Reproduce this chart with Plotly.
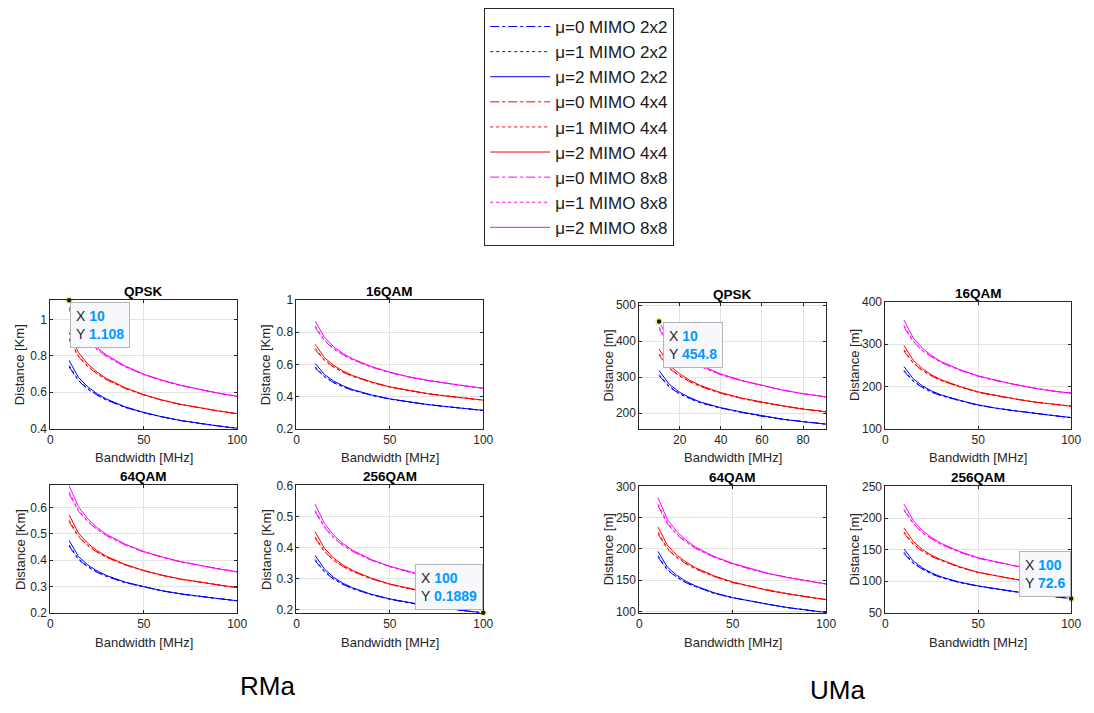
import plotly.graph_objects as go

W, H = 1094, 713

# ---------------- data ----------------
BW = [10, 15, 20, 25, 30, 40, 50, 60, 70, 80, 90, 100]
BW_LABEL_TICKS = [0, 50, 100]
BW_LABEL_TICKS_UMA_QPSK = [20, 40, 60, 80]

LEGEND_NAMES = ["μ=0 MIMO 2x2", "μ=1 MIMO 2x2", "μ=2 MIMO 2x2",
                "μ=0 MIMO 4x4", "μ=1 MIMO 4x4", "μ=2 MIMO 4x4",
                "μ=0 MIMO 8x8", "μ=1 MIMO 8x8", "μ=2 MIMO 8x8"]
PANEL_TITLES = ["QPSK", "16QAM", "64QAM", "256QAM"]

# RMa QPSK [Km]
RMA_QPSK_2X2_MU0 = [0.740, 0.663, 0.617, 0.584, 0.557, 0.517, 0.487, 0.463, 0.443, 0.428, 0.414, 0.401]
RMA_QPSK_2X2_MU1 = [0.748, 0.667, 0.620, 0.585, 0.558, 0.517, 0.488, 0.463, 0.444, 0.428, 0.414, 0.401]
RMA_QPSK_2X2_MU2 = [0.775, 0.682, 0.630, 0.592, 0.563, 0.520, 0.489, 0.464, 0.444, 0.428, 0.414, 0.401]
RMA_QPSK_4X4_MU0 = [0.888, 0.796, 0.741, 0.701, 0.669, 0.621, 0.585, 0.555, 0.532, 0.513, 0.496, 0.482]
RMA_QPSK_4X4_MU1 = [0.897, 0.801, 0.744, 0.703, 0.671, 0.622, 0.585, 0.556, 0.532, 0.513, 0.497, 0.482]
RMA_QPSK_4X4_MU2 = [0.930, 0.819, 0.756, 0.711, 0.676, 0.625, 0.587, 0.557, 0.533, 0.514, 0.497, 0.482]
RMA_QPSK_8X8_MU0 = [1.058, 0.948, 0.882, 0.834, 0.798, 0.741, 0.697, 0.664, 0.637, 0.614, 0.594, 0.578]
RMA_QPSK_8X8_MU1 = [1.069, 0.954, 0.886, 0.837, 0.800, 0.741, 0.698, 0.665, 0.637, 0.614, 0.595, 0.578]
RMA_QPSK_8X8_MU2 = [1.108, 0.975, 0.900, 0.846, 0.806, 0.745, 0.700, 0.666, 0.638, 0.615, 0.595, 0.578]

# RMa 16QAM [Km]
RMA_16QAM_2X2_MU0 = [0.578, 0.522, 0.485, 0.459, 0.439, 0.408, 0.383, 0.365, 0.349, 0.337, 0.325, 0.313]
RMA_16QAM_2X2_MU1 = [0.584, 0.525, 0.487, 0.461, 0.439, 0.408, 0.384, 0.365, 0.350, 0.337, 0.325, 0.313]
RMA_16QAM_2X2_MU2 = [0.605, 0.537, 0.495, 0.466, 0.443, 0.410, 0.385, 0.366, 0.350, 0.337, 0.325, 0.313]
RMA_16QAM_4X4_MU0 = [0.692, 0.624, 0.581, 0.550, 0.526, 0.488, 0.458, 0.436, 0.417, 0.403, 0.389, 0.377]
RMA_16QAM_4X4_MU1 = [0.700, 0.628, 0.584, 0.552, 0.527, 0.489, 0.459, 0.436, 0.418, 0.403, 0.389, 0.377]
RMA_16QAM_4X4_MU2 = [0.725, 0.642, 0.593, 0.558, 0.531, 0.491, 0.460, 0.437, 0.418, 0.403, 0.389, 0.377]
RMA_16QAM_8X8_MU0 = [0.830, 0.746, 0.695, 0.658, 0.629, 0.583, 0.549, 0.521, 0.500, 0.482, 0.466, 0.451]
RMA_16QAM_8X8_MU1 = [0.839, 0.751, 0.698, 0.660, 0.630, 0.584, 0.549, 0.522, 0.500, 0.482, 0.466, 0.451]
RMA_16QAM_8X8_MU2 = [0.869, 0.768, 0.709, 0.667, 0.635, 0.587, 0.551, 0.523, 0.501, 0.482, 0.466, 0.451]

# RMa 64QAM [Km]
RMA_64QAM_2X2_MU0 = [0.454, 0.402, 0.374, 0.354, 0.339, 0.315, 0.299, 0.283, 0.271, 0.262, 0.254, 0.246]
RMA_64QAM_2X2_MU1 = [0.458, 0.405, 0.376, 0.355, 0.339, 0.315, 0.299, 0.283, 0.272, 0.262, 0.254, 0.246]
RMA_64QAM_2X2_MU2 = [0.475, 0.414, 0.382, 0.359, 0.342, 0.317, 0.300, 0.284, 0.272, 0.262, 0.254, 0.246]
RMA_64QAM_4X4_MU0 = [0.546, 0.489, 0.455, 0.430, 0.411, 0.382, 0.360, 0.342, 0.327, 0.316, 0.306, 0.296]
RMA_64QAM_4X4_MU1 = [0.552, 0.492, 0.457, 0.431, 0.412, 0.382, 0.360, 0.342, 0.328, 0.316, 0.306, 0.296]
RMA_64QAM_4X4_MU2 = [0.572, 0.503, 0.464, 0.436, 0.415, 0.384, 0.361, 0.343, 0.328, 0.316, 0.306, 0.296]
RMA_64QAM_8X8_MU0 = [0.652, 0.586, 0.546, 0.517, 0.493, 0.458, 0.431, 0.411, 0.393, 0.380, 0.367, 0.356]
RMA_64QAM_8X8_MU1 = [0.659, 0.590, 0.548, 0.518, 0.494, 0.459, 0.432, 0.411, 0.394, 0.380, 0.367, 0.356]
RMA_64QAM_8X8_MU2 = [0.683, 0.603, 0.557, 0.524, 0.498, 0.461, 0.433, 0.412, 0.394, 0.380, 0.367, 0.356]

# RMa 256QAM [Km]
RMA_256QAM_2X2_MU0 = [0.357, 0.321, 0.297, 0.280, 0.267, 0.248, 0.233, 0.221, 0.212, 0.203, 0.196, 0.1889]
RMA_256QAM_2X2_MU1 = [0.361, 0.323, 0.298, 0.281, 0.268, 0.248, 0.233, 0.222, 0.212, 0.203, 0.196, 0.1889]
RMA_256QAM_2X2_MU2 = [0.374, 0.330, 0.303, 0.284, 0.270, 0.249, 0.234, 0.222, 0.212, 0.203, 0.196, 0.1889]
RMA_256QAM_4X4_MU0 = [0.430, 0.386, 0.358, 0.338, 0.323, 0.299, 0.281, 0.267, 0.255, 0.246, 0.237, 0.229]
RMA_256QAM_4X4_MU1 = [0.434, 0.388, 0.359, 0.339, 0.323, 0.299, 0.281, 0.267, 0.256, 0.246, 0.237, 0.229]
RMA_256QAM_4X4_MU2 = [0.450, 0.397, 0.365, 0.343, 0.326, 0.301, 0.282, 0.268, 0.256, 0.246, 0.237, 0.229]
RMA_256QAM_8X8_MU0 = [0.515, 0.464, 0.430, 0.406, 0.387, 0.359, 0.338, 0.321, 0.306, 0.295, 0.284, 0.275]
RMA_256QAM_8X8_MU1 = [0.520, 0.467, 0.432, 0.407, 0.388, 0.359, 0.338, 0.321, 0.307, 0.295, 0.284, 0.275]
RMA_256QAM_8X8_MU2 = [0.539, 0.477, 0.439, 0.412, 0.391, 0.361, 0.339, 0.322, 0.307, 0.295, 0.284, 0.275]

# UMa QPSK [m]
UMA_QPSK_2X2_MU0 = [304, 272, 253, 240, 229, 214, 202, 191, 183, 176, 169, 164]
UMA_QPSK_2X2_MU1 = [307, 274, 254, 240, 229, 214, 202, 192, 183, 176, 169, 164]
UMA_QPSK_2X2_MU2 = [318, 280, 258, 243, 231, 215, 203, 192, 183, 176, 169, 164]
UMA_QPSK_4X4_MU0 = [361, 324, 303, 287, 274, 255, 241, 229, 220, 211, 204, 198]
UMA_QPSK_4X4_MU1 = [365, 326, 304, 288, 275, 256, 241, 230, 220, 211, 204, 198]
UMA_QPSK_4X4_MU2 = [378, 333, 309, 291, 277, 257, 242, 230, 220, 211, 204, 198]
UMA_QPSK_8X8_MU0 = [434, 389, 363, 344, 330, 307, 290, 276, 264, 254, 245, 238]
UMA_QPSK_8X8_MU1 = [439, 391, 364, 345, 330, 307, 290, 276, 264, 254, 245, 238]
UMA_QPSK_8X8_MU2 = [454.8, 400, 370, 349, 333, 309, 291, 277, 264, 254, 245, 238]

# UMa 16QAM [m]
UMA_16QAM_2X2_MU0 = [236, 212, 197, 186, 178, 166, 155, 148, 142, 136, 131, 126]
UMA_16QAM_2X2_MU1 = [238, 213, 198, 187, 179, 166, 156, 148, 142, 136, 131, 126]
UMA_16QAM_2X2_MU2 = [247, 218, 201, 189, 180, 167, 156, 148, 142, 136, 131, 126]
UMA_16QAM_4X4_MU0 = [284, 255, 237, 224, 214, 199, 186, 177, 170, 163, 158, 153]
UMA_16QAM_4X4_MU1 = [287, 256, 238, 225, 214, 199, 186, 178, 170, 163, 158, 153]
UMA_16QAM_4X4_MU2 = [297, 262, 242, 227, 216, 200, 187, 178, 170, 163, 158, 153]
UMA_16QAM_8X8_MU0 = [341, 306, 284, 269, 256, 239, 224, 213, 204, 196, 189, 184]
UMA_16QAM_8X8_MU1 = [345, 308, 285, 270, 257, 239, 224, 214, 204, 196, 189, 184]
UMA_16QAM_8X8_MU2 = [357, 315, 290, 273, 259, 240, 225, 214, 204, 196, 189, 184]

# UMa 64QAM [m]
UMA_64QAM_2X2_MU0 = [187, 166, 155, 146, 140, 129, 122, 116, 111, 106, 102, 98.4]
UMA_64QAM_2X2_MU1 = [189, 167, 155, 146, 140, 129, 122, 116, 111, 106, 102, 98.4]
UMA_64QAM_2X2_MU2 = [196, 171, 158, 148, 141, 130, 122, 116, 111, 106, 102, 98.4]
UMA_64QAM_4X4_MU0 = [224, 200, 186, 176, 168, 156, 146, 140, 133, 128, 123, 119]
UMA_64QAM_4X4_MU1 = [227, 201, 187, 177, 169, 156, 147, 140, 133, 128, 123, 119]
UMA_64QAM_4X4_MU2 = [235, 206, 190, 179, 170, 157, 147, 140, 133, 128, 123, 119]
UMA_64QAM_8X8_MU0 = [269, 240, 223, 211, 201, 187, 176, 167, 160, 154, 149, 144]
UMA_64QAM_8X8_MU1 = [272, 242, 224, 212, 201, 187, 176, 168, 160, 154, 149, 144]
UMA_64QAM_8X8_MU2 = [282, 247, 228, 214, 203, 188, 177, 168, 160, 154, 149, 144]

# UMa 256QAM [m]
UMA_256QAM_2X2_MU0 = [144, 128, 119, 111, 106, 97.9, 92.1, 87.2, 83.3, 79.4, 75.9, 72.6]
UMA_256QAM_2X2_MU1 = [146, 129, 119, 112, 106, 98.0, 92.2, 87.3, 83.4, 79.4, 76.0, 72.6]
UMA_256QAM_2X2_MU2 = [151, 132, 121, 113, 107, 98.5, 92.5, 87.5, 83.5, 79.5, 76.0, 72.6]
UMA_256QAM_4X4_MU0 = [176, 158, 147, 139, 133, 122, 114, 108, 103, 98.4, 94.4, 91]
UMA_256QAM_4X4_MU1 = [178, 159, 148, 139, 133, 122, 114, 108, 103, 98.4, 94.5, 91]
UMA_256QAM_4X4_MU2 = [184, 163, 150, 141, 134, 123, 114, 108, 103, 98.5, 94.5, 91]
UMA_256QAM_8X8_MU0 = [212, 191, 176, 167, 158, 146, 136, 130, 124, 119, 115, 111]
UMA_256QAM_8X8_MU1 = [214, 192, 177, 167, 159, 146, 137, 130, 124, 119, 115, 111]
UMA_256QAM_8X8_MU2 = [222, 196, 180, 169, 160, 147, 137, 130, 124, 119, 115, 111]

# data tips (x, y)
TIP_X = [10, 100, 10, 100]
TIP_Y = [1.108, 0.1889, 454.8, 72.6]
TIP_TEXT_X = ["10", "100", "10", "100"]
TIP_TEXT_Y = ["1.108", "0.1889", "454.8", "72.6"]

# y tick labels
YT_RMA_QPSK = [0.4, 0.6, 0.8, 1]
YT_RMA_16QAM = [0.2, 0.4, 0.6, 0.8, 1]
YT_RMA_64QAM = [0.2, 0.3, 0.4, 0.5, 0.6]
YT_RMA_256QAM = [0.2, 0.3, 0.4, 0.5, 0.6]
YT_UMA_QPSK = [200, 300, 400, 500]
YT_UMA_16QAM = [100, 200, 300, 400]
YT_UMA_64QAM = [100, 150, 200, 250, 300]
YT_UMA_256QAM = [50, 100, 150, 200, 250]

# ---------------- styling / layout ----------------
COLORS = ["#0000ff", "#ff0000", "#ff00ff"]
DASHES = ["dashdot", "dot", "solid"]
FONT = "Liberation Sans, Arial, sans-serif"
AX_COLOR = "#262626"
GRID = "#e3e3e3"

panels = [
    dict(title=PANEL_TITLES[0], px=(48, 237), py=(299, 430), xr=[0, 100], xt=BW_LABEL_TICKS,
         yr=[0.4, 1.108], yt=YT_RMA_QPSK, ylab="Distance [Km]",
         s=[RMA_QPSK_2X2_MU0, RMA_QPSK_2X2_MU1, RMA_QPSK_2X2_MU2,
            RMA_QPSK_4X4_MU0, RMA_QPSK_4X4_MU1, RMA_QPSK_4X4_MU2,
            RMA_QPSK_8X8_MU0, RMA_QPSK_8X8_MU1, RMA_QPSK_8X8_MU2]),
    dict(title=PANEL_TITLES[1], px=(297, 486), py=(299, 430), xr=[0, 100], xt=BW_LABEL_TICKS,
         yr=[0.2, 1.0], yt=YT_RMA_16QAM, ylab="Distance [Km]",
         s=[RMA_16QAM_2X2_MU0, RMA_16QAM_2X2_MU1, RMA_16QAM_2X2_MU2,
            RMA_16QAM_4X4_MU0, RMA_16QAM_4X4_MU1, RMA_16QAM_4X4_MU2,
            RMA_16QAM_8X8_MU0, RMA_16QAM_8X8_MU1, RMA_16QAM_8X8_MU2]),
    dict(title=PANEL_TITLES[2], px=(48, 237), py=(488, 618), xr=[0, 100], xt=BW_LABEL_TICKS,
         yr=[0.2, 0.684], yt=YT_RMA_64QAM, ylab="Distance [Km]",
         s=[RMA_64QAM_2X2_MU0, RMA_64QAM_2X2_MU1, RMA_64QAM_2X2_MU2,
            RMA_64QAM_4X4_MU0, RMA_64QAM_4X4_MU1, RMA_64QAM_4X4_MU2,
            RMA_64QAM_8X8_MU0, RMA_64QAM_8X8_MU1, RMA_64QAM_8X8_MU2]),
    dict(title=PANEL_TITLES[3], px=(297, 486), py=(488, 618), xr=[0, 100], xt=BW_LABEL_TICKS,
         yr=[0.1889, 0.6], yt=YT_RMA_256QAM, ylab="Distance [Km]",
         s=[RMA_256QAM_2X2_MU0, RMA_256QAM_2X2_MU1, RMA_256QAM_2X2_MU2,
            RMA_256QAM_4X4_MU0, RMA_256QAM_4X4_MU1, RMA_256QAM_4X4_MU2,
            RMA_256QAM_8X8_MU0, RMA_256QAM_8X8_MU1, RMA_256QAM_8X8_MU2]),
    dict(title=PANEL_TITLES[0], px=(644, 833), py=(302, 430), xr=[0.4, 91.2], xt=BW_LABEL_TICKS_UMA_QPSK,
         yr=[157, 506], yt=YT_UMA_QPSK, ylab="Distance [m]",
         s=[UMA_QPSK_2X2_MU0, UMA_QPSK_2X2_MU1, UMA_QPSK_2X2_MU2,
            UMA_QPSK_4X4_MU0, UMA_QPSK_4X4_MU1, UMA_QPSK_4X4_MU2,
            UMA_QPSK_8X8_MU0, UMA_QPSK_8X8_MU1, UMA_QPSK_8X8_MU2]),
    dict(title=PANEL_TITLES[1], px=(893, 1081), py=(301, 430), xr=[0, 100], xt=BW_LABEL_TICKS,
         yr=[100, 400], yt=YT_UMA_16QAM, ylab="Distance [m]",
         s=[UMA_16QAM_2X2_MU0, UMA_16QAM_2X2_MU1, UMA_16QAM_2X2_MU2,
            UMA_16QAM_4X4_MU0, UMA_16QAM_4X4_MU1, UMA_16QAM_4X4_MU2,
            UMA_16QAM_8X8_MU0, UMA_16QAM_8X8_MU1, UMA_16QAM_8X8_MU2]),
    dict(title=PANEL_TITLES[2], px=(644, 833), py=(489, 618), xr=[0, 100], xt=BW_LABEL_TICKS,
         yr=[97.8, 300], yt=YT_UMA_64QAM, ylab="Distance [m]",
         s=[UMA_64QAM_2X2_MU0, UMA_64QAM_2X2_MU1, UMA_64QAM_2X2_MU2,
            UMA_64QAM_4X4_MU0, UMA_64QAM_4X4_MU1, UMA_64QAM_4X4_MU2,
            UMA_64QAM_8X8_MU0, UMA_64QAM_8X8_MU1, UMA_64QAM_8X8_MU2]),
    dict(title=PANEL_TITLES[3], px=(893, 1081), py=(489, 618), xr=[0, 100], xt=BW_LABEL_TICKS,
         yr=[50, 250], yt=YT_UMA_256QAM, ylab="Distance [m]",
         s=[UMA_256QAM_2X2_MU0, UMA_256QAM_2X2_MU1, UMA_256QAM_2X2_MU2,
            UMA_256QAM_4X4_MU0, UMA_256QAM_4X4_MU1, UMA_256QAM_4X4_MU2,
            UMA_256QAM_8X8_MU0, UMA_256QAM_8X8_MU1, UMA_256QAM_8X8_MU2]),
]

# data-tip placement: (panel index, box left px, box top px)
TIP_BOXES = [(0, 68, 301), (3, 417, 568), (4, 668, 321), (7, 1028, 555)]

fig = go.Figure()
layout = dict(
    width=W, height=H, margin=dict(l=0, r=0, t=0, b=0),
    paper_bgcolor="white", plot_bgcolor="white",
    font=dict(family=FONT, color=AX_COLOR, size=12),
    showlegend=True,
    legend=dict(x=487 / W, y=1 - 1 / H, xanchor="left", yanchor="top",
                bordercolor=AX_COLOR, borderwidth=1, bgcolor="white",
                font=dict(family=FONT, size=17, color="#1a1a1a"),
                itemwidth=60, tracegroupgap=0),
    annotations=[], shapes=[],
)


def fx(px):
    return px / W


def fy(py):
    return 1 - py / H


def fmt(v):
    return "%g" % v


for i, p in enumerate(panels):
    k = "" if i == 0 else str(i + 1)
    xa, ya = "x" + k, "y" + k
    for j, ser in enumerate(p["s"]):
        fig.add_trace(go.Scatter(
            x=BW, y=ser, mode="lines", name=LEGEND_NAMES[j],
            line=dict(color=COLORS[j // 3], dash=DASHES[j % 3], width=1),
            xaxis=xa, yaxis=ya, showlegend=(i == 0), legendgroup=LEGEND_NAMES[j],
            hoverinfo="skip"))
    common = dict(showline=True, linecolor=AX_COLOR, linewidth=1, mirror="ticks",
                  ticks="inside", ticklen=3, tickcolor=AX_COLOR, showgrid=True,
                  gridcolor=GRID, gridwidth=1, zeroline=False,
                  tickfont=dict(family=FONT, size=12, color=AX_COLOR))
    layout["xaxis" + k] = dict(common, domain=[fx(p["px"][0]), fx(p["px"][1])], anchor=ya,
                               range=p["xr"], tickmode="array", tickvals=p["xt"],
                               ticktext=[fmt(v) for v in p["xt"]])
    layout["yaxis" + k] = dict(common, domain=[fy(p["py"][1]), fy(p["py"][0])], anchor=xa,
                               range=p["yr"], tickmode="array", tickvals=p["yt"],
                               ticktext=[fmt(v) for v in p["yt"]])
    cx = (p["px"][0] + p["px"][1]) / 2
    cy = (p["py"][0] + p["py"][1]) / 2
    # panel title
    layout["annotations"].append(dict(
        text="<b>" + p["title"] + "</b>", x=fx(cx), y=fy(p["py"][0] - 9), xref="paper", yref="paper",
        showarrow=False, xanchor="center", yanchor="middle",
        font=dict(family=FONT, size=13.5, color="#000000")))
    # x label
    layout["annotations"].append(dict(
        text="Bandwidth [MHz]", x=fx(cx), y=fy(p["py"][1] + 30), xref="paper", yref="paper",
        showarrow=False, xanchor="center", yanchor="middle",
        font=dict(family=FONT, size=13, color=AX_COLOR)))
    # y label
    ylx = p["px"][0] - 31
    layout["annotations"].append(dict(
        text=p["ylab"], x=fx(ylx), y=fy(cy), xref="paper", yref="paper", textangle=-90,
        showarrow=False, xanchor="center", yanchor="middle",
        font=dict(family=FONT, size=13, color=AX_COLOR)))

# data tips
for t, (pi, bx, by) in enumerate(TIP_BOXES):
    k = "" if pi == 0 else str(pi + 1)
    fig.add_trace(go.Scatter(
        x=[TIP_X[t]], y=[TIP_Y[t]], mode="markers", showlegend=False, hoverinfo="skip",
        marker=dict(size=6, color="#1a1a1a", line=dict(color="#f3eea0", width=1.5)),
        cliponaxis=False, xaxis="x" + k, yaxis="y" + k))
    txt = ("X <b><span style='color:#0099ff'>%s</span></b><br>"
           "Y <b><span style='color:#0099ff'>%s</span></b>") % (TIP_TEXT_X[t], TIP_TEXT_Y[t])
    layout["annotations"].append(dict(
        text=txt, x=fx(bx), y=fy(by), xref="paper", yref="paper", showarrow=False,
        xanchor="left", yanchor="top", align="left",
        bgcolor="#f7f8fc", bordercolor="#b4b4b4", borderwidth=1, borderpad=5,
        font=dict(family=FONT, size=14, color="#262626")))

# region labels
layout["annotations"].append(dict(text="RMa", x=fx(268), y=fy(693), xref="paper", yref="paper",
                                  showarrow=False, xanchor="center", yanchor="middle",
                                  font=dict(family=FONT, size=26, color="#000000")))
layout["annotations"].append(dict(text="UMa", x=fx(845), y=fy(697), xref="paper", yref="paper",
                                  showarrow=False, xanchor="center", yanchor="middle",
                                  font=dict(family=FONT, size=26, color="#000000")))

fig.update_layout(**layout)
fig.write_html("out.html")
